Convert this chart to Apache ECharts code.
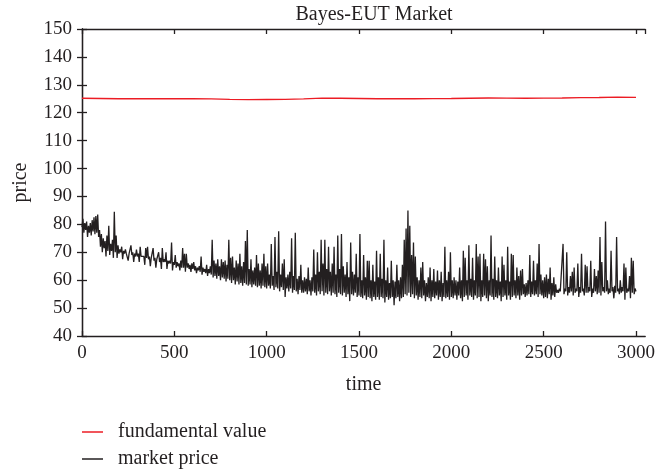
<!DOCTYPE html>
<html>
<head>
<meta charset="utf-8">
<script src="https://cdn.jsdelivr.net/npm/echarts@6/dist/echarts.min.js"></script>
<style>html,body{margin:0;padding:0;background:#fff}#c{width:658px;height:470px}</style>
</head>
<body>
<div id="c"></div>
<script>
// Market price: lower readings at t = 0,10,...,3000
// and upper readings (band top / spikes) at t = 5,15,...,2995
const priceLow = [
79,77,78,75.5,77,76,77.5,76.5,77,75.5,72,70,71.5,68.5,70.5,69,70.5,68,70,68,
69.5,70,67.5,69.5,69.5,67,69,69,66.5,68.5,68.5,66.5,68.5,68,65.5,68,67.5,65,67.5,67,64.5,67,66.5,64,66.5,66.5,64,66,66,63.5,65.5,
64.5,65,63.5,64.5,64.5,63,64.5,64,63,64,63.5,62.5,63.5,63,62,63,62.5,61.5,62.5,62,
61,61.5,60.5,61.5,60,61,60.5,59.5,60.5,60,59,60,58.5,59.5,58.5,59,58,59,58.5,58,
58.5,57.5,58.5,58,57.5,58,57,58,57.5,57,
58,57,58,56.5,57.5,57,56,57.5,56.5,54,57,56,57,55.5,56.5,56,55,56.5,55.5,55.5,
56,55,56,54.5,56,55.5,54.5,56,55,56,54.5,55.5,55,56,54.5,55.5,55,54,55.5,55,
54.5,55.5,54,55,52.5,55,54.5,55.5,54,54.5,
54,53.5,54.5,53,54,53.5,52.5,54,53,54,53,54,53.5,52,54,53,53.5,54,51,53.5,
54,52.5,53.5,54,55,54.5,55.5,54,55,53.5,54.5,53,54,53.5,54.5,52.5,54,53.5,52.5,54,
53.5,54.5,53,54,52.5,54,53.5,54,53,54,
53.5,54.5,53,54.5,53.5,52.5,54,54.5,53,54.5,54,53,54.5,53.5,54,52.5,54,54.5,53.5,52.5,
54.5,54,53,54,53.5,54.5,52.5,54,54.5,53,54.5,53,54,54.5,53.5,54.5,53,54.5,55,54,
54.5,55,54,55,54.5,55,54,55,54.5,53.5,
54,53.5,55,53,54.5,54,55.5,55.5,56,55.5,55,56,54.5,55.5,56,54.5,55.5,56,54,55.5,
56,54.5,55.5,55.5,56,54,55.5,56,55,55.5,54.5,56,55.5,56,55,55.5,56,53.5,55.5,56,
55,55.5,56,53,55.5,56,53.5,55.5,55,56
];
const priceHigh = [
82,80.5,81,79.5,80.5,81.5,82.5,83,83.5,78,76.5,75,74,76,79.5,73,74.5,84.5,76,72.5,
71,72,70.5,71,70,69.5,72.5,70,69.5,71,69.5,72,69,68.5,71.5,72,68.5,68,71.5,68,
67.5,70,68,71.5,67.5,70,67,67,73.5,66.5,
69,66.5,66,67,71.5,69.5,69.5,66,65.5,66,66.5,65,64.5,65,68.5,64.5,64,65.5,64,65,
74.5,67,66,67.5,65,67.5,66.5,67,65.5,74.5,68,68.5,64.5,67,66,69.5,65,66.5,74,78,
64,67.5,63.5,64.5,69,66,63.5,66,69.5,65,
66,62,73,61.5,75.5,63,77.5,62,66,67.5,61,62,63,75,61.5,77,60.5,61.5,65.5,60,
61,60.5,64.5,60,61,71,62,70,63,74.5,66,74.5,64,72,63,66,72,62,76,64,
76.5,65,62,66.5,61,73.5,63,62,69.5,61,
76.5,60,69,61,67,67,60,65.5,59.5,70.5,61,69.5,60.5,74.5,60,64.5,59,67,60,59.5,
65.5,60,61,65.5,74.5,78.5,85,79.5,69,73.5,68.5,61,60,64.5,66.5,60,59,61,64.5,60,
64,59.5,63.5,60,63,59,72,60,63,70,
60,61,60,59.5,64.5,60,70.5,68,60,72.5,60.5,68,60,73,68.5,69.5,60,69.5,67.5,65,
60,76,60.5,68.5,60,64.5,59.5,68.5,65.5,60,72,59.5,69.5,69,60,64.5,61.5,63.5,64,58.5,
59,60,69,59.5,67,60,66,73,62,60,
61,62,60.5,64.5,59,61,58.5,56.5,57,56.5,73,57,70,57.5,61.5,63,64.5,57,66,57.5,
69.5,57,65.5,65,57.5,67,57,64,61.5,63.5,75.5,66.5,57.5,81,60,57,70.5,57.5,58,75.5,
57,60,57.5,66,64.5,57,61.5,68,67,57
];
const lowStep = 10;
const fundamentalTimes = [0,100,200,300,400,500,600,700,800,900,1000,1100,1200,1300,1400,1500,1600,1700,1800,1900,2000,2100,2200,2300,2400,2500,2600,2700,2800,2900,3000];
const fundamentalValue = [125.2,125.1,125.0,125.0,125.0,125.0,125.0,124.95,124.8,124.7,124.75,124.8,124.95,125.25,125.2,125.1,125.0,125.0,125.0,125.05,125.1,125.2,125.3,125.25,125.2,125.25,125.3,125.4,125.45,125.6,125.5];
const yTicks = [40,50,60,70,80,90,100,110,120,130,140,150];
const xTicks = [0,500,1000,1500,2000,2500,3000];
const seriesNames = ['fundamental value','market price'];
const titleText = 'Bayes-EUT Market';

const FONT = 'Liberation Serif';
const INK = '#231f20';
const RED = '#ec1c24';
const marketData = [];
priceLow.forEach((v,i)=>{
  marketData.push([i*lowStep, v]);
  if (i < priceHigh.length) marketData.push([i*lowStep + lowStep/2, priceHigh[i]]);
});
const fundData = fundamentalValue.map((v,i)=>[fundamentalTimes[i], v]);

const axisLineStyle = {color: INK, width: 1.3};
const legendBase = {
  orient:'vertical', left:82, padding:0, itemWidth:21, itemHeight:1.5, icon:'rect',
  textStyle:{fontFamily:FONT, fontSize:20, lineHeight:20, color:INK, padding:[0,0,0,10]}
};
const chart = echarts.init(document.getElementById('c'), null, {renderer:'canvas'});
chart.setOption({
  animation:false,
  backgroundColor:'#fff',
  title:{text:titleText, left:369, top:0, textAlign:'center',
    textStyle:{fontFamily:FONT, fontSize:20, fontWeight:'normal', color:INK}},
  grid:{left:82, right:10, top:29, bottom:134},
  legend:[
    Object.assign({}, legendBase, {top:422, data:[seriesNames[0]]}),
    Object.assign({}, legendBase, {top:449, data:[seriesNames[1]]})
  ],
  xAxis:[{
    type:'value', min:0, max:3050, interval:500, position:'bottom',
    name:'time', nameLocation:'middle', nameGap:39,
    nameTextStyle:{fontFamily:FONT, fontSize:20, color:INK},
    axisLine:{show:true, lineStyle:axisLineStyle},
    axisTick:{show:true, inside:true, length:5, lineStyle:axisLineStyle},
    axisLabel:{fontFamily:FONT, fontSize:19, color:INK, margin:8, showMaxLabel:false,
      formatter:v=>xTicks.indexOf(v)>=0?String(v):''},
    splitLine:{show:false}
  },{
    type:'value', min:0, max:3050, interval:500, position:'top',
    axisLine:{show:true, lineStyle:axisLineStyle},
    axisTick:{show:true, inside:true, length:5, lineStyle:axisLineStyle},
    axisLabel:{show:false}, splitLine:{show:false}
  }],
  yAxis:[{
    type:'value', min:yTicks[0], max:yTicks[yTicks.length-1], interval:10, position:'left',
    name:'price', nameLocation:'middle', nameGap:51, nameRotate:90,
    nameTextStyle:{fontFamily:FONT, fontSize:20, color:INK},
    axisLine:{show:true, lineStyle:axisLineStyle},
    axisTick:{show:true, inside:true, length:5, lineStyle:axisLineStyle},
    axisLabel:{fontFamily:FONT, fontSize:19, color:INK, margin:10},
    splitLine:{show:false}
  },{
    type:'value', min:yTicks[0], max:yTicks[yTicks.length-1], interval:10, position:'right',
    axisLine:{show:true, lineStyle:axisLineStyle},
    axisTick:{show:true, inside:true, length:5, lineStyle:axisLineStyle},
    axisLabel:{show:false}, splitLine:{show:false}
  }],
  series:[{
    name:seriesNames[0], type:'line', data:fundData, showSymbol:false, symbol:'none',
    lineStyle:{color:RED, width:1.4}, itemStyle:{color:RED}, z:3
  },{
    name:seriesNames[1], type:'line', data:marketData, showSymbol:false, symbol:'none',
    lineStyle:{color:INK, width:1.3}, itemStyle:{color:INK}, z:2
  }]
});
</script>
</body>
</html>
